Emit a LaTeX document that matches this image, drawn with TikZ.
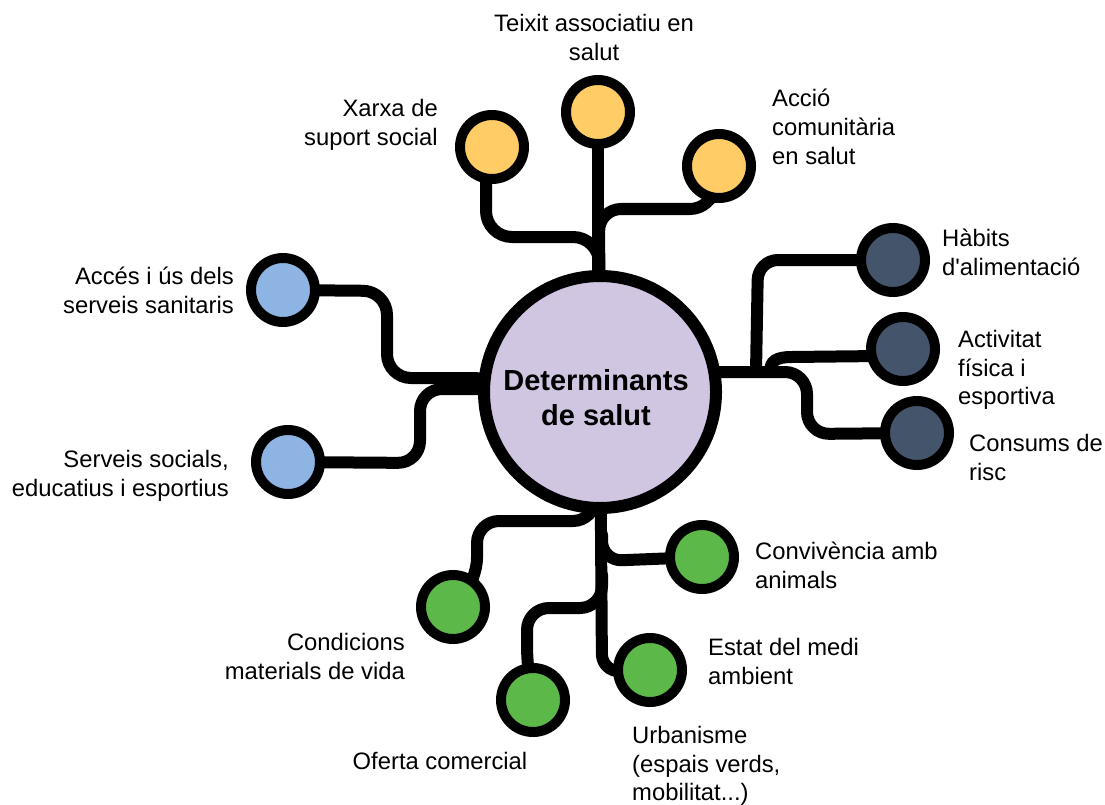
\documentclass[tikz,border=0pt]{standalone}
\usepackage{fontspec}
\setmainfont{Liberation Sans}[Ligatures=TeXOff]
\usetikzlibrary{backgrounds}
\definecolor{hubfill}{RGB}{208,198,226}
\definecolor{yel}{RGB}{255,204,102}
\definecolor{dblue}{RGB}{68,84,106}
\definecolor{lblue}{RGB}{141,180,226}
\definecolor{grn}{RGB}{92,185,73}
\begin{document}
\begin{tikzpicture}[x=1pt,y=-1pt,
  conn/.style={line width=12pt, line cap=round, line join=round},
  dot/.style={circle, draw=black, line width=10pt, minimum size=64pt, inner sep=0pt},
  hubnode/.style={circle, draw=black, fill=hubfill, line width=12pt, minimum size=232pt, inner sep=0pt},
  lbl/.style={font=\fontsize{23.8}{28.7}\selectfont, inner sep=0pt},
  hubtext/.style={font=\bfseries\fontsize{29}{35}\selectfont, inner sep=0pt, align=center}]
\useasboundingbox (0,0) rectangle (1105,805);

% hub
\node[hubnode] (hub) at (600,392) {};
\node[hubtext, anchor=north] (hubt) at (596,369) {Determinants\\de salut};

% circles
\node[dot, fill=yel] (teixit) at (598,112) {};
\node[dot, fill=yel] (xarxa) at (492,147) {};
\node[dot, fill=yel] (accio) at (719,166) {};
\node[dot, fill=dblue] (habits) at (893,260) {};
\node[dot, fill=dblue] (activ) at (903,349) {};
\node[dot, fill=dblue] (consums) at (917,433) {};
\node[dot, fill=lblue] (acces) at (283,290) {};
\node[dot, fill=lblue] (serveis) at (288,462) {};
\node[dot, fill=grn] (condic) at (453,607) {};
\node[dot, fill=grn] (oferta) at (533,700) {};
\node[dot, fill=grn] (conviv) at (702,557) {};
\node[dot, fill=grn] (estat) at (650,670) {};

% labels
\node[lbl, anchor=north, align=center] (lteixit) at (594,14) {Teixit associatiu en\\salut};
\node[lbl, anchor=north east, align=right] (lxarxa) at (438,99) {Xarxa de\\suport social};
\node[lbl, anchor=north west, align=left] (laccio) at (772,89) {Acció\\comunitària\\en salut};
\node[lbl, anchor=north west, align=left] (lhabits) at (942,229) {Hàbits\\d'alimentació};
\node[lbl, anchor=north west, align=left] (lactiv) at (958,330) {Activitat\\física i\\esportiva};
\node[lbl, anchor=north west, align=left] (lconsums) at (969,434) {Consums de\\risc};
\node[lbl, anchor=north east, align=right] (lacces) at (234,267) {Accés i ús dels\\serveis sanitaris};
\node[lbl, anchor=north east, align=right] (lserveis) at (229,450) {Serveis socials,\\educatius i esportius};
\node[lbl, anchor=north west, align=left] (lconviv) at (755,542) {Convivència amb\\animals};
\node[lbl, anchor=north west, align=left] (lestat) at (708,638) {Estat del medi\\ambient};
\node[lbl, anchor=north east, align=right] (lcondic) at (405,633) {Condicions\\materials de vida};
\node[lbl, anchor=north] (loferta) at (440,752) {Oferta comercial};
\node[lbl, anchor=north west, align=left] (lurban) at (632,726) {Urbanisme\\(espais verds,\\mobilitat...)};

\begin{pgfonlayer}{background}
% yellow group
\draw[conn] (teixit.center) -- (teixit.center |- hub.center);
\draw[conn, rounded corners=26pt] ([xshift=-6pt]xarxa.center) -- (486,237) -- (599,237) -- (hub.center);
\draw[conn, rounded corners=22pt] (accio.center) -- (712,209) -- (599,209) -- (hub.center);
% dark blue group
\draw[conn, rounded corners=22pt] (hub.center) -- (700,372) -- (807,372) -- (807,434) -- (consums.center);
\draw[conn, rounded corners=20pt] (756,372) -- (758,260) -- (habits.center);
\draw[conn] (770,372) .. controls (770,361) and (776,357) .. (792,357) -- (880,356) -- (activ.center);
% light blue group
\draw[conn, rounded corners=24pt] (acces.center) -- (387,291) -- (387,378) -- (490,378) -- (hub.center);
\draw[conn, rounded corners=22pt] (serveis.center) -- (420,463) -- (420,389) -- (490,389) -- (hub.center);
% green group
\draw[conn, rounded corners=18pt] (hub.center) -- (602,672) -- (estat.center);
\draw[conn, rounded corners=22pt] (hub.center) -- (595,521) -- (477,521) -- (477,580) -- (condic.center);
\draw[conn, rounded corners=20pt] (602,535) -- (602,561) -- (conviv.center);
\draw[conn, rounded corners=22pt] (602,575) -- (602,608) -- (527,608) -- (527,668) -- (oferta.center);
\end{pgfonlayer}
\end{tikzpicture}
\end{document}
